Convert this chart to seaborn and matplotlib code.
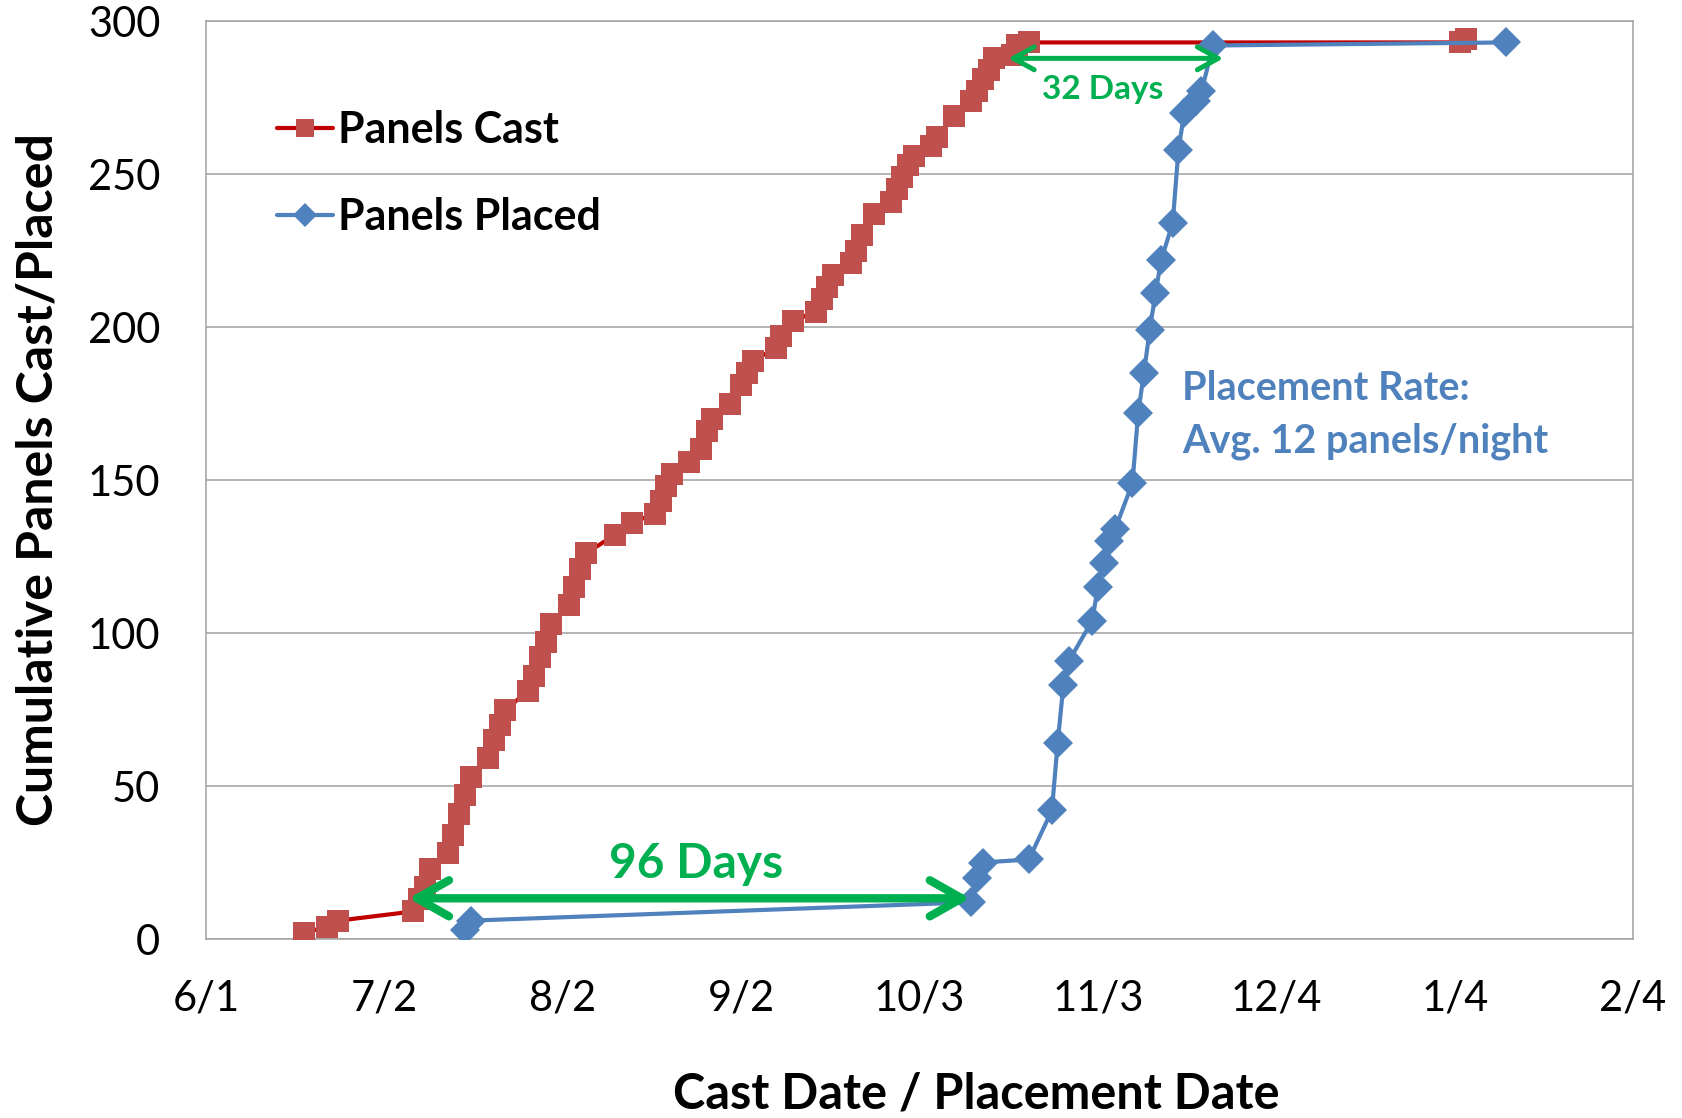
import pandas as pd
import matplotlib
matplotlib.use("Agg")
import matplotlib.pyplot as plt
import matplotlib.dates as mdates
from matplotlib.ticker import FuncFormatter
import seaborn as sns

# Cumulative precast panels cast at the yard
cast_dates = [
    "2012-06-18", "2012-06-22", "2012-06-24", "2012-07-07", "2012-07-08",
    "2012-07-09", "2012-07-10", "2012-07-13", "2012-07-14", "2012-07-15",
    "2012-07-16", "2012-07-17", "2012-07-20", "2012-07-21", "2012-07-22",
    "2012-07-23", "2012-07-27", "2012-07-28", "2012-07-29", "2012-07-30",
    "2012-07-31", "2012-08-03", "2012-08-04", "2012-08-05", "2012-08-06",
    "2012-08-11", "2012-08-14", "2012-08-18", "2012-08-19", "2012-08-20",
    "2012-08-21", "2012-08-24", "2012-08-26", "2012-08-27", "2012-08-28",
    "2012-08-31", "2012-09-02", "2012-09-03", "2012-09-04", "2012-09-08",
    "2012-09-09", "2012-09-11", "2012-09-15", "2012-09-16", "2012-09-17",
    "2012-09-18", "2012-09-21", "2012-09-22", "2012-09-23", "2012-09-25",
    "2012-09-28", "2012-09-29", "2012-09-30", "2012-10-01", "2012-10-02",
    "2012-10-05", "2012-10-06", "2012-10-09", "2012-10-12", "2012-10-13",
    "2012-10-14", "2012-10-15", "2012-10-16", "2012-10-19", "2012-10-20",
    "2012-10-22", "2013-01-05", "2013-01-06",
]
cast_counts = [
    2, 4, 6, 9, 13,
    17, 23, 28, 34, 41,
    47, 53, 59, 65, 70,
    75, 81, 86, 92, 97,
    103, 109, 115, 121, 126,
    132, 136, 139, 143, 148,
    152, 156, 160, 166, 170,
    175, 181, 185, 189, 193,
    197, 202, 205, 209, 213,
    217, 221, 225, 230, 237,
    241, 245, 249, 253, 256,
    259, 262, 269, 274, 277,
    281, 284, 288, 289, 292,
    293, 293, 294,
]

# Cumulative panels placed on the bridge
placed_dates = [
    "2012-07-16", "2012-07-17", "2012-10-12", "2012-10-13", "2012-10-14",
    "2012-10-22", "2012-10-26", "2012-10-27", "2012-10-28", "2012-10-29",
    "2012-11-02", "2012-11-03", "2012-11-04", "2012-11-05", "2012-11-06",
    "2012-11-09", "2012-11-10", "2012-11-11", "2012-11-12", "2012-11-13",
    "2012-11-14", "2012-11-16", "2012-11-17", "2012-11-18", "2012-11-20",
    "2012-11-21", "2012-11-23", "2013-01-13",
]
placed_counts = [
    3, 6, 12, 20, 25,
    26, 42, 64, 83, 91,
    104, 115, 123, 130, 134,
    149, 172, 185, 199, 211,
    222, 234, 258, 270, 274,
    277, 292, 293,
]

y_ticks = [0, 50, 100, 150, 200, 250, 300]

RED_LINE = "#C00000"
RED_MARK = "#C0504D"
BLUE = "#4F81BD"
GREEN = "#00B050"
GRID = "#A0A0A0"

sns.set_theme(style="white")
plt.rcParams["font.family"] = ["Lato", "DejaVu Sans"]

fig = plt.figure(figsize=(16.82, 11.18), dpi=100)
ax = fig.add_axes([0.1225, 0.1601, 0.8484, 0.8211])

cast = pd.DataFrame({"date": pd.to_datetime(cast_dates), "panels": cast_counts})
placed = pd.DataFrame({"date": pd.to_datetime(placed_dates), "panels": placed_counts})

sns.lineplot(data=cast, x="date", y="panels", ax=ax, estimator=None, sort=False,
             color=RED_LINE, lw=3, marker="s", markersize=15.5,
             markerfacecolor=RED_MARK, markeredgecolor=RED_MARK,
             markeredgewidth=0, label="Panels Cast", zorder=3)
sns.lineplot(data=placed, x="date", y="panels", ax=ax, estimator=None, sort=False,
             color=BLUE, lw=3, marker="D", markersize=15,
             markerfacecolor=BLUE, markeredgecolor=BLUE,
             markeredgewidth=0, label="Panels Placed", zorder=4)

# Date axis: 31-day steps starting June 1
start = pd.Timestamp("2012-06-01")
x_ticks = [start + pd.Timedelta(days=31 * k) for k in range(9)]
ax.set_xlim(x_ticks[0], x_ticks[-1])
ax.set_xticks(x_ticks)
ax.xaxis.set_major_formatter(FuncFormatter(
    lambda v, p: f"{mdates.num2date(v).month}/{mdates.num2date(v).day}"))
ax.set_ylim(0, 300)
ax.set_yticks(y_ticks)

ax.set_axisbelow(True)
ax.yaxis.grid(True, color=GRID, lw=1.1)
ax.xaxis.grid(False)
for s in ax.spines.values():
    s.set_color(GRID)
    s.set_linewidth(1.1)

ax.tick_params(axis="both", direction="out", length=10, width=1.1,
               color=GRID, labelsize=30, labelcolor="black")
ax.tick_params(axis="y", pad=23)
ax.tick_params(axis="x", pad=19)

ax.set_xlabel("Cast Date / Placement Date", fontsize=35, fontweight="bold",
              color="black", va="center")
ax.set_ylabel("Cumulative Panels Cast/Placed", fontsize=36, fontweight="bold",
              color="black", va="center")
ax.xaxis.set_label_coords(0.5396, -0.1688)
ax.yaxis.set_label_coords(-0.1175, 0.5)

leg = ax.legend(loc="center left", bbox_to_anchor=(0.0498, 0.834),
                frameon=False, borderpad=0, borderaxespad=0,
                handlelength=1.3, handletextpad=0.12, labelspacing=1.1,
                markerscale=0.8, prop={"weight": "bold", "size": 31})
for t in leg.get_texts():
    t.set_fontweight("bold")
    t.set_color("black")

def day(d):
    return start + pd.Timedelta(days=d)

# Lag between casting and placement
ax.annotate("", xy=(day(35.2), 13.3), xytext=(day(132.8), 13.3),
            arrowprops=dict(arrowstyle="<->,head_length=1.15,head_width=0.65",
                            color=GREEN, lw=6, mutation_scale=20,
                            shrinkA=0, shrinkB=0), zorder=6)
ax.text(day(85.2), 19.8, "96 Days", color=GREEN, fontsize=34.5,
        fontweight="bold", ha="center", va="baseline", zorder=6)

ax.annotate("", xy=(day(139.4), 287.8), xytext=(day(176.8), 287.8),
            arrowprops=dict(arrowstyle="<->,head_length=1.0,head_width=0.55",
                            color=GREEN, lw=3.6, mutation_scale=15,
                            shrinkA=0, shrinkB=0), zorder=6)
ax.text(day(155.9), 274.4, "32 Days", color=GREEN, fontsize=24,
        fontweight="bold", ha="center", va="baseline", zorder=6)

ax.text(day(169.6), 176, "Placement Rate:", color=BLUE, fontsize=28.5,
        fontweight="bold", ha="left", va="baseline", zorder=6)
ax.text(day(169.6), 159, "Avg. 12 panels/night", color=BLUE, fontsize=28.5,
        fontweight="bold", ha="left", va="baseline", zorder=6)

fig.savefig("out.png", dpi=100, facecolor="white")
